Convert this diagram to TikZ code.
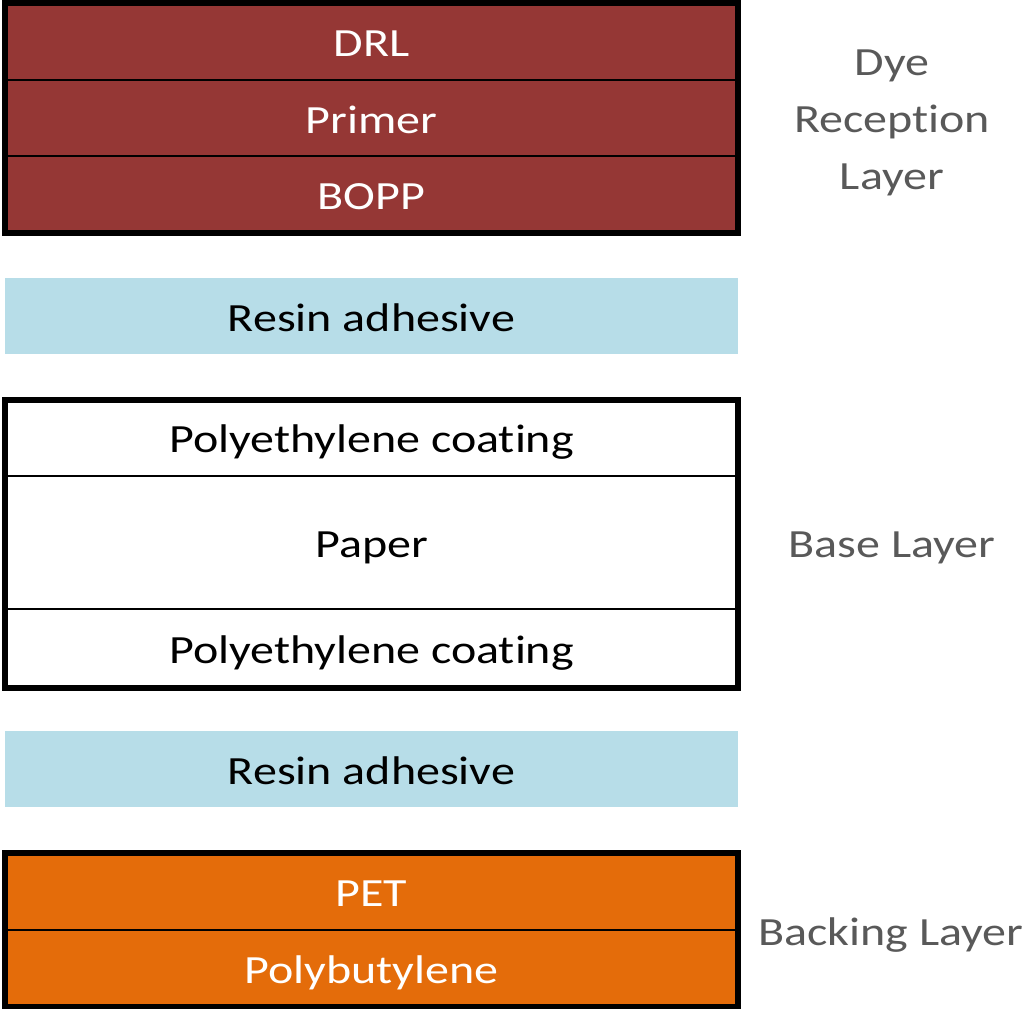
\documentclass[tikz,border=0pt]{standalone}
\usepackage{fontspec}
\setmainfont{Carlito}[FakeStretch=1.2,Ligatures=NoCommon]
\usepackage{tikz}

\definecolor{dyered}{HTML}{953735}
\definecolor{resinblue}{HTML}{B7DDE8}
\definecolor{backorange}{HTML}{E46C0A}
\definecolor{sidegray}{HTML}{595959}

\begin{document}
\begin{tikzpicture}[x=1pt,y=-1pt,
	row/.style={shape=rectangle,draw=black,line width=2pt,minimum width=733pt,inner sep=0pt,outer sep=0pt,text height=33pt,text depth=3pt,font=\fontsize{40}{48}\selectfont},
	dyerow/.style={row,fill=dyered,text=white},
	baserow/.style={row,fill=white,text=black},
	backrow/.style={row,fill=backorange,text=white},
	resin/.style={row,draw=none,fill=resinblue,text=black,minimum height=76pt},
	frame/.style={draw=black,line width=6pt},
	side/.style={text=sidegray,align=center,font=\fontsize{40}{57}\selectfont}]
	\useasboundingbox (0,0) rectangle (1023,1009);

	\node[dyerow,minimum height=77pt] (drl)    at (371.5, 41.5)  {DRL};
	\node[dyerow,minimum height=76pt] (primer) at (371.5, 118)   {Primer};
	\node[dyerow,minimum height=77pt] (bopp)   at (371.5, 194.5) {BOPP};
	\draw[frame] (drl.north west) rectangle (bopp.south east);

	\node[resin] (resinA) at (371.5, 316) {Resin adhesive};

	\node[baserow,minimum height=76.5pt] (peA)   at (371.5, 437.75) {Polyethylene coating};
	\node[baserow,minimum height=133pt]  (paper) at (371.5, 542.5)  {Paper};
	\node[baserow,minimum height=79pt]   (peB)   at (371.5, 648.5)  {Polyethylene coating};
	\draw[frame] (peA.north west) rectangle (peB.south east);

	\node[resin] (resinB) at (371.5, 769) {Resin adhesive};

	\node[backrow,minimum height=77pt] (pet) at (371.5, 891) {PET};
	\node[backrow,minimum height=77pt] (pb)  at (371.5, 968) {Polybutylene};
	\draw[frame] (pet.north west) rectangle (pb.south east);

	\node[side] (dyelabel)  at (892, 123) {Dye\\Reception\\Layer};
	\node[side] (baselabel) at (892, 548) {Base Layer};
	\node[side] (backlabel) at (891, 935) {Backing Layer};

\end{tikzpicture}
\end{document}
